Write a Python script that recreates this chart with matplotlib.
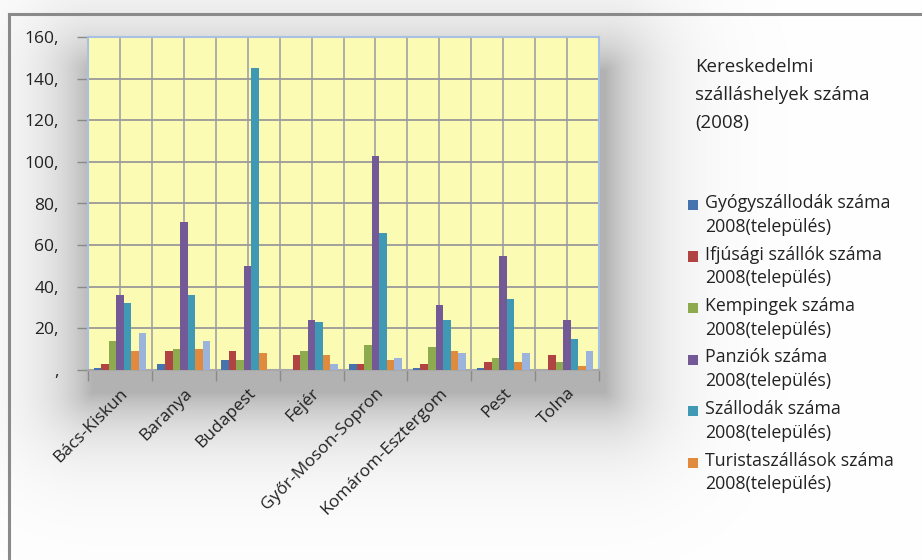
"""Kereskedelmi szálláshelyek száma megyénként (2008) - grouped bar chart."""

import numpy as np
import matplotlib

matplotlib.use("Agg")
import matplotlib.pyplot as plt
from matplotlib.lines import Line2D
from matplotlib.patches import Rectangle
from matplotlib.ticker import FixedLocator, FuncFormatter


counties = [
    "Bács-Kiskun", "Baranya", "Budapest", "Fejér",
    "Győr-Moson-Sopron", "Komárom-Esztergom", "Pest", "Tolna",
]
spa_hotels = [1, 3, 5, 0, 3, 1, 1, 0]
youth_hostels = [3, 9, 9, 7, 3, 3, 4, 7]
campsites = [14, 10, 5, 9, 12, 11, 6, 4]
guesthouses = [36, 71, 50, 24, 103, 31, 55, 24]
hotels = [32, 36, 145, 23, 66, 24, 34, 15]
tourist_hostels = [9, 10, 8, 7, 5, 9, 4, 2]
seventh_series = [18, 14, 0, 3, 6, 8, 8, 9]  # its legend entry is cut off

series_labels = [
    "Gyógyszállodák száma\n2008(település)",
    "Ifjúsági szállók száma\n2008(település)",
    "Kempingek száma\n2008(település)",
    "Panziók száma\n2008(település)",
    "Szállodák száma\n2008(település)",
    "Turistaszállások száma\n2008(település)",
]
title_text = "Kereskedelmi\nszálláshelyek száma\n(2008)"

colors = ["#4573ae", "#b04443", "#8eaa4e", "#735a97", "#4099b4", "#e08a3e", "#9cb3dc"]

W, H = 922, 560
FONT = ["Open Sans", "DejaVu Sans"]
plt.rcParams["font.family"] = FONT
TEXT_COLOR = "#222222"

fig = plt.figure(figsize=(W / 100, H / 100), dpi=100)
fig.patch.set_facecolor("white")

# soft shadow behind the plot area
bg = fig.add_axes([0, 0, 1, 1], zorder=0)
bg.set_axis_off()
yy, xx = np.mgrid[0:H, 0:W]
x0, x1, y0, y1 = 92, 604, 70, 392
dx = np.maximum(np.maximum(x0 - xx, xx - x1), 0)
dy = np.maximum(np.maximum(y0 - yy, yy - y1), 0)
dist = np.hypot(dx, dy)
shade = 0.30 * np.exp(-dist / 42.0)
img = np.clip(1.0 - shade, 0, 1)
bg.imshow(np.dstack([img, img, img]), extent=(0, W, H, 0), aspect="auto",
          interpolation="bilinear")
bg.set_xlim(0, W)
bg.set_ylim(H, 0)

# outer frame (top and left edges)
fig.add_artist(Line2D([9 / W, 1], [1 - 14 / H, 1 - 14 / H], color="#8a8a8a", lw=2.2))
fig.add_artist(Line2D([9 / W, 9 / W], [1 - 14 / H, 0], color="#8a8a8a", lw=2.2))

ax = fig.add_axes([88 / W, 1 - 370 / H, (599 - 88) / W, (370 - 37) / H], zorder=2)
ax.set_facecolor("#fbfbb4")

all_series = [spa_hotels, youth_hostels, campsites, guesthouses, hotels,
              tourist_hostels, seventh_series]
x = np.arange(len(counties))
bar_w = 0.118
for i, values in enumerate(all_series):
    ax.bar(x + (i - 3) * bar_w, values, width=bar_w, color=colors[i], zorder=3)

ax.set_xlim(-0.5, len(counties) - 0.5)
ax.set_ylim(0, 160)

ax.yaxis.set_major_locator(FixedLocator(np.arange(0, 161, 20)))
ax.yaxis.set_major_formatter(FuncFormatter(lambda v, _: f"{int(v)}," if v else ","))
ax.tick_params(axis="y", length=8, width=1, color="#8a8a8a", labelsize=12.5,
               labelcolor=TEXT_COLOR, pad=13)

ax.set_xticks(x)
ax.set_xticklabels(counties, rotation=45, ha="right", rotation_mode="anchor",
                   fontsize=12.5, color=TEXT_COLOR)
ax.tick_params(axis="x", which="major", length=0, pad=11)
ax.xaxis.set_minor_locator(FixedLocator(np.arange(-0.5, len(counties), 1)))
ax.tick_params(axis="x", which="minor", length=8, width=1, color="#8a8a8a")

ax.grid(True, which="both", axis="x", color="#a8a8a8", lw=1.3, zorder=1)
ax.grid(True, which="major", axis="y", color="#9a9a9a", lw=1.3, zorder=1)
ax.set_axisbelow(True)

for side in ("top", "right", "left"):
    ax.spines[side].set_color("#a9bfe3")
    ax.spines[side].set_linewidth(1.5)
ax.spines["bottom"].set_color("#a8a8a8")
ax.spines["bottom"].set_linewidth(1.5)

fig.text(695 / W, 1 - 58 / H, title_text, fontsize=13.5, color=TEXT_COLOR,
         va="top", ha="left", linespacing=1.72)

# legend: square next to the first line of each two-line entry
for i, label in enumerate(series_labels):
    yc = 205 + i * 51.5
    fig.add_artist(Rectangle((688 / W, 1 - (yc + 5) / H), 10 / W, 10 / H,
                             transform=fig.transFigure, facecolor=colors[i],
                             edgecolor="none"))
    fig.text(705 / W, 1 - (yc - 11) / H, label, fontsize=12.8, color=TEXT_COLOR,
             va="top", ha="left", linespacing=1.42)

fig.savefig("out.png", dpi=100)
